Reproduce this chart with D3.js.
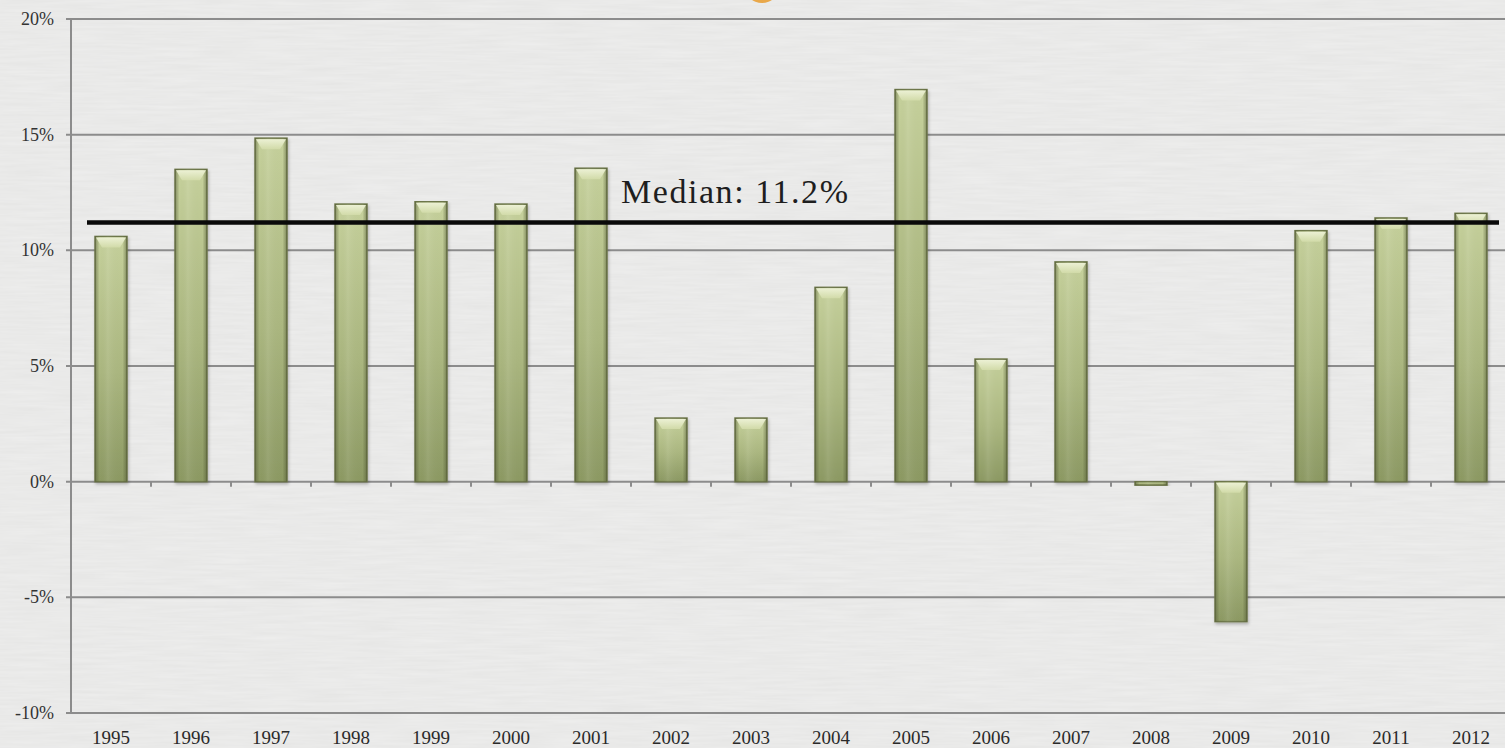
<!DOCTYPE html>
<html>
<head>
<meta charset="utf-8">
<script src="https://cdn.jsdelivr.net/npm/d3@7"></script>
<style>
  html, body { margin: 0; padding: 0; background: #e9e9e8; }
  svg { display: block; }
</style>
</head>
<body>
<svg id="chart" width="1505" height="748"></svg>
<script>
// Annual returns, 1995–2012
const years = ["1995","1996","1997","1998","1999","2000","2001","2002","2003",
               "2004","2005","2006","2007","2008","2009","2010","2011","2012"];
const returns = [10.6, 13.5, 14.85, 12.0, 12.1, 12.0, 13.55, 2.75, 2.75,
                 8.4, 16.95, 5.3, 9.5, -0.15, -6.05, 10.85, 11.4, 11.6];
const yTicks = [-10, -5, 0, 5, 10, 15, 20];
const medianValue = 11.2;
const medianLabel = "Median: 11.2%";

const svg = d3.select("#chart");
const W = 1505, H = 748;
const plotLeft = 71, plotTop = 19, plotBottom = 713;
const serif = "'Liberation Serif', 'Times New Roman', serif";

const x = d3.scaleBand().domain(years).range([plotLeft, plotLeft + 80 * years.length]).paddingInner(0.6).paddingOuter(0.3);
const y = d3.scaleLinear().domain([-10, 20]).range([plotBottom, plotTop]);

const defs = svg.append("defs");

// paper-like background texture
const noise = defs.append("filter").attr("id", "paper").attr("x", 0).attr("y", 0).attr("width", "100%").attr("height", "100%");
noise.append("feTurbulence").attr("type", "fractalNoise").attr("baseFrequency", "0.02 0.35").attr("numOctaves", 2).attr("seed", 4).attr("result", "n");
noise.append("feColorMatrix").attr("in", "n").attr("type", "matrix")
  .attr("values", "0 0 0 0 1  0 0 0 0 1  0 0 0 0 1  0 0 0 0.35 -0.05").attr("result", "w");
noise.append("feComposite").attr("in", "w").attr("in2", "SourceGraphic").attr("operator", "over");

svg.append("rect").attr("width", W).attr("height", H).attr("fill", "#e6e6e5").attr("filter", "url(#paper)");

// partially visible orange badge at the top edge
svg.append("ellipse").attr("cx", 762).attr("cy", -13).attr("rx", 17).attr("ry", 16).attr("fill", "#e9a84a");

// bar gradients
const vg = defs.append("linearGradient").attr("id", "barV").attr("x1", 0).attr("x2", 0).attr("y1", 0).attr("y2", 1);
vg.append("stop").attr("offset", "0%").attr("stop-color", "#c6d19c");
vg.append("stop").attr("offset", "55%").attr("stop-color", "#abb780");
vg.append("stop").attr("offset", "100%").attr("stop-color", "#8c9963");

const hg = defs.append("linearGradient").attr("id", "barH").attr("x1", 0).attr("x2", 1).attr("y1", 0).attr("y2", 0);
hg.append("stop").attr("offset", "0%").attr("stop-color", "#4e5632").attr("stop-opacity", 0.55);
hg.append("stop").attr("offset", "14%").attr("stop-color", "#4e5632").attr("stop-opacity", 0.0);
hg.append("stop").attr("offset", "40%").attr("stop-color", "#ffffff").attr("stop-opacity", 0.08);
hg.append("stop").attr("offset", "86%").attr("stop-color", "#4e5632").attr("stop-opacity", 0.0);
hg.append("stop").attr("offset", "100%").attr("stop-color", "#4e5632").attr("stop-opacity", 0.55);

const bev = defs.append("linearGradient").attr("id", "bevel").attr("x1", 0).attr("x2", 0).attr("y1", 0).attr("y2", 1);
bev.append("stop").attr("offset", "0%").attr("stop-color", "#f0f4da");
bev.append("stop").attr("offset", "100%").attr("stop-color", "#d3dcaa");

const shadow = defs.append("filter").attr("id", "shadow").attr("x", "-30%").attr("y", "-10%").attr("width", "160%").attr("height", "130%");
shadow.append("feDropShadow").attr("dx", 1).attr("dy", 2).attr("stdDeviation", 1.5).attr("flood-color", "#000").attr("flood-opacity", 0.25);

// horizontal gridlines and y axis
const gridColor = "#8c8c8c";
svg.append("g").selectAll("line").data(yTicks).join("line")
  .attr("x1", plotLeft - 5).attr("x2", W)
  .attr("y1", d => y(d)).attr("y2", d => y(d))
  .attr("stroke", gridColor).attr("stroke-width", 2);

svg.append("line").attr("x1", plotLeft).attr("x2", plotLeft).attr("y1", plotTop).attr("y2", plotBottom)
  .attr("stroke", gridColor).attr("stroke-width", 2);

svg.append("g").selectAll("text").data(yTicks).join("text")
  .attr("x", 54).attr("y", d => y(d)).attr("dy", "0.33em")
  .attr("text-anchor", "end")
  .attr("font-family", serif)
  .attr("font-size", 18).attr("fill", "#333")
  .text(d => d + "%");

// category separator ticks under the zero line
svg.append("g").selectAll("line").data(years.slice(1)).join("line")
  .attr("x1", d => x(d) - x.step() * x.paddingInner() / 2)
  .attr("x2", d => x(d) - x.step() * x.paddingInner() / 2)
  .attr("y1", y(0)).attr("y2", y(0) + 5)
  .attr("stroke", gridColor).attr("stroke-width", 2);

// bars
const bars = svg.append("g").selectAll("g").data(years.map((yr, i) => ({ yr, v: returns[i] }))).join("g");
const bw = x.bandwidth();
const barTop = d => y(Math.max(0, d.v));
const barH = d => Math.max(1.5, Math.abs(y(d.v) - y(0)));

bars.append("rect")
  .attr("x", d => x(d.yr)).attr("y", barTop).attr("width", bw).attr("height", barH)
  .attr("fill", "url(#barV)").attr("stroke", "#6c7649").attr("stroke-width", 1.5)
  .attr("filter", "url(#shadow)");
bars.append("rect")
  .attr("x", d => x(d.yr)).attr("y", barTop).attr("width", bw).attr("height", barH)
  .attr("fill", "url(#barH)");
// top bevel highlight
bars.filter(d => Math.abs(d.v) > 1).append("path")
  .attr("d", d => {
    const x0 = x(d.yr) + 1, x1 = x(d.yr) + bw - 1, t = barTop(d) + 1, b = t + 10;
    return `M${x0},${t}L${x1},${t}L${x1 - 6},${b}L${x0 + 6},${b}Z`;
  })
  .attr("fill", "url(#bevel)").attr("opacity", 0.9);

// x labels
svg.append("g").selectAll("text").data(years).join("text")
  .attr("x", d => x(d) + bw / 2).attr("y", 744)
  .attr("text-anchor", "middle")
  .attr("font-family", serif)
  .attr("font-size", 19).attr("fill", "#2a2a2a")
  .text(d => d);

// median line and label
svg.append("line")
  .attr("x1", 87).attr("x2", 1499)
  .attr("y1", y(medianValue)).attr("y2", y(medianValue))
  .attr("stroke", "#0a0a0a").attr("stroke-width", 4.5);

svg.append("text")
  .attr("x", 621).attr("y", y(medianValue) - 20)
  .attr("font-family", serif)
  .attr("font-size", 34).attr("fill", "#1e1e1e")
  .attr("textLength", 227).attr("lengthAdjust", "spacing")
  .text(medianLabel);
</script>
</body>
</html>
